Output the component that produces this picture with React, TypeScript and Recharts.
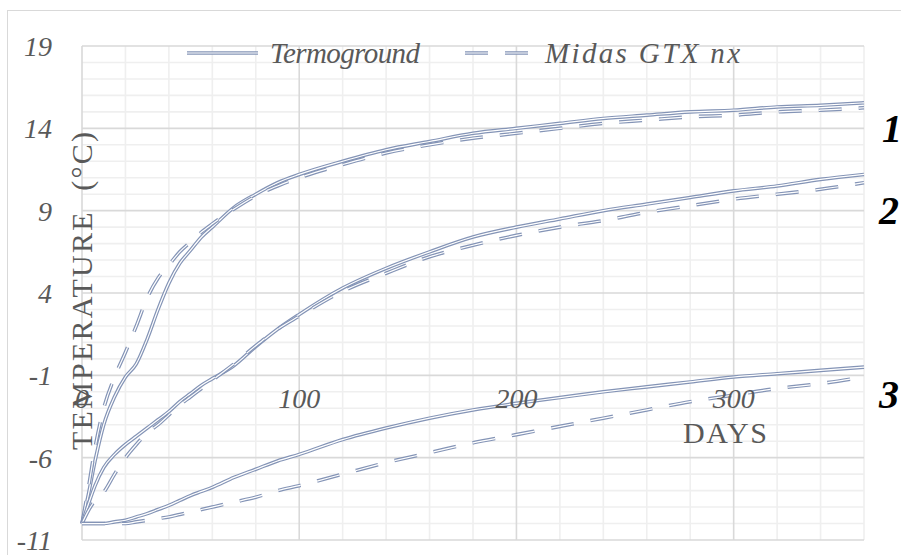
import React from 'react'
import { LineChart, Line, XAxis, YAxis, CartesianGrid, ReferenceDot } from 'recharts'

const days = [0, 3, 6, 10, 15, 20, 25, 30, 35, 40, 45, 50, 55, 60, 70, 80, 90, 100, 120, 140, 160, 180, 200, 220, 240, 260, 280, 300, 320, 340, 360]

const termo1 = [-10, -8.2, -6.2, -4.0, -2.3, -1.1, -0.3, 1.2, 3.0, 4.6, 5.8, 6.6, 7.4, 8.0, 9.2, 10.0, 10.7, 11.2, 12.0, 12.7, 13.2, 13.7, 14.0, 14.3, 14.6, 14.8, 15.0, 15.1, 15.3, 15.4, 15.55]
const midas1 = [-10, -7.8, -5.4, -3.0, -1.1, 0.4, 2.0, 3.7, 4.9, 5.7, 6.5, 7.1, 7.7, 8.2, 9.1, 9.9, 10.5, 11.0, 11.8, 12.5, 13.0, 13.4, 13.7, 14.0, 14.3, 14.5, 14.7, 14.8, 15.0, 15.1, 15.25]
const termo2 = [-10, -8.8, -7.7, -6.6, -5.8, -5.2, -4.7, -4.2, -3.7, -3.2, -2.6, -2.1, -1.6, -1.2, -0.4, 0.75, 1.8, 2.7, 4.3, 5.5, 6.5, 7.4, 8.0, 8.5, 9.0, 9.4, 9.8, 10.2, 10.5, 10.9, 11.2]
const midas2 = [-10, -9.2, -8.6, -8.1, -7.0, -6.0, -5.2, -4.5, -4.0, -3.4, -2.8, -2.3, -1.8, -1.3, -0.3, 0.8, 1.8, 2.6, 4.1, 5.2, 6.2, 6.9, 7.5, 8.0, 8.4, 8.9, 9.3, 9.7, 10.0, 10.3, 10.7]
const termo3 = [-10, -10, -10, -10, -9.9, -9.8, -9.6, -9.4, -9.15, -8.9, -8.6, -8.3, -8.05, -7.8, -7.2, -6.7, -6.2, -5.8, -4.9, -4.2, -3.6, -3.1, -2.7, -2.35, -2.0, -1.7, -1.4, -1.1, -0.9, -0.7, -0.5]
const midas3 = [-10, -10, -10, -10, -10, -10, -9.9, -9.8, -9.7, -9.6, -9.45, -9.3, -9.15, -9.0, -8.7, -8.4, -8.0, -7.7, -7.0, -6.3, -5.7, -5.1, -4.6, -4.1, -3.6, -3.1, -2.6, -2.2, -1.8, -1.5, -1.1]

const yTicks = [-11, -6, -1, 4, 9, 14, 19]
const xLabels = [0, 100, 200, 300]
const majorX = [0, 100, 200, 300]
const minorX = [20, 40, 60, 80, 120, 140, 160, 180, 220, 240, 260, 280, 320, 340, 360]
const minorY = [-10, -9, -8, -7, -5, -4, -3, -2, 0, 1, 2, 3, 5, 6, 7, 8, 10, 11, 12, 13, 15, 16, 17, 18]

const data = days.map((d, i) => ({
  d,
  t1: termo1[i], m1: midas1[i],
  t2: termo2[i], m2: midas2[i],
  t3: termo3[i], m3: midas3[i],
}))

const LINE = '#8494b6'
const GREY = '#595959'
const FONT = '"Liberation Serif", serif'
const DASH = '23 17'

function doubleLine(key: string, dashed: boolean) {
  return [
    <Line key={key + 'o'} dataKey={key} type="monotone" stroke={LINE} strokeWidth={3.6}
      strokeDasharray={dashed ? DASH : undefined} dot={false} activeDot={false} isAnimationActive={false} />,
    <Line key={key + 'i'} dataKey={key} type="monotone" stroke="#fff" strokeWidth={1.2}
      strokeDasharray={dashed ? DASH : undefined} dot={false} activeDot={false} isAnimationActive={false} />,
  ]
}

export default function App() {
  return (
    <div style={{ position: 'absolute', left: 0, top: 0, width: 901, height: 555, background: '#fff', overflow: 'hidden' }}>
      <LineChart width={901} height={555} data={data} margin={{ top: 46, right: 37, bottom: 15, left: 0 }}>
        <CartesianGrid stroke="#efefef" strokeWidth={1.6} horizontalValues={minorY} verticalValues={minorX} />
        <CartesianGrid stroke="#d9d9d9" strokeWidth={1.6} horizontalValues={yTicks} verticalValues={majorX} />
        <XAxis dataKey="d" type="number" domain={[0, 360]} hide height={0} />
        <YAxis type="number" domain={[-11, 19]} ticks={yTicks} width={82} axisLine={false} tickLine={false}
          tickSize={0} tickMargin={30} interval={0}
          tick={{ fill: GREY, fontSize: 28, fontStyle: 'italic', fontFamily: FONT }} />
        {xLabels.map((v) => (
          <ReferenceDot key={v} x={v} y={-1} r={0} ifOverflow="visible"
            shape={(p: any) => (
              <text x={p.cx} y={p.cy + 33} textAnchor="middle" fill={GREY} fontSize={28}
                fontStyle="italic" fontFamily={FONT}>{v}</text>
            )} />
        ))}
        {doubleLine('t1', false)}
        {doubleLine('m1', true)}
        {doubleLine('t2', false)}
        {doubleLine('m2', true)}
        {doubleLine('t3', false)}
        {doubleLine('m3', true)}
      </LineChart>
      <svg width={901} height={555} style={{ position: 'absolute', left: 0, top: 0, pointerEvents: 'none' }}>
        <rect x={7.5} y={10.5} width={1000} height={1000} fill="none" stroke="#d9d9d9" strokeWidth={1} />
        {/* legend */}
        <line x1={187} x2={258} y1={53} y2={53} stroke={LINE} strokeWidth={3.6} />
        <line x1={187} x2={258} y1={53} y2={53} stroke="#fff" strokeWidth={1.2} />
        <text x={270} y={63} fill={GREY} fontSize={29} fontStyle="italic" fontFamily={FONT}
          textLength={150} lengthAdjust="spacing">Termoground</text>
        <line x1={465} x2={528} y1={53} y2={53} stroke={LINE} strokeWidth={3.6} strokeDasharray={DASH} />
        <line x1={465} x2={528} y1={53} y2={53} stroke="#fff" strokeWidth={1.2} strokeDasharray={DASH} />
        <text x={545} y={63} fill={GREY} fontSize={29} fontStyle="italic" fontFamily={FONT}
          textLength={195} lengthAdjust="spacing">Midas GTX nx</text>
        {/* axis titles */}
        <text x={-450} y={92} transform="rotate(-90)" fill={GREY} fontSize={30}
          fontFamily={FONT} textLength={318} lengthAdjust="spacing" style={{ whiteSpace: 'pre' }}>{'TEMPERATURE  (°C)'}</text>
        <text x={683} y={443} fill={GREY} fontSize={30} fontFamily={FONT}
          textLength={84} lengthAdjust="spacing">DAYS</text>
        {/* curve numbers */}
        <text x={882} y={142} fill="#000" fontSize={40} fontWeight="bold" fontStyle="italic" fontFamily={FONT}>1</text>
        <text x={879} y={224} fill="#000" fontSize={40} fontWeight="bold" fontStyle="italic" fontFamily={FONT}>2</text>
        <text x={879} y={408} fill="#000" fontSize={40} fontWeight="bold" fontStyle="italic" fontFamily={FONT}>3</text>
      </svg>
    </div>
  )
}
